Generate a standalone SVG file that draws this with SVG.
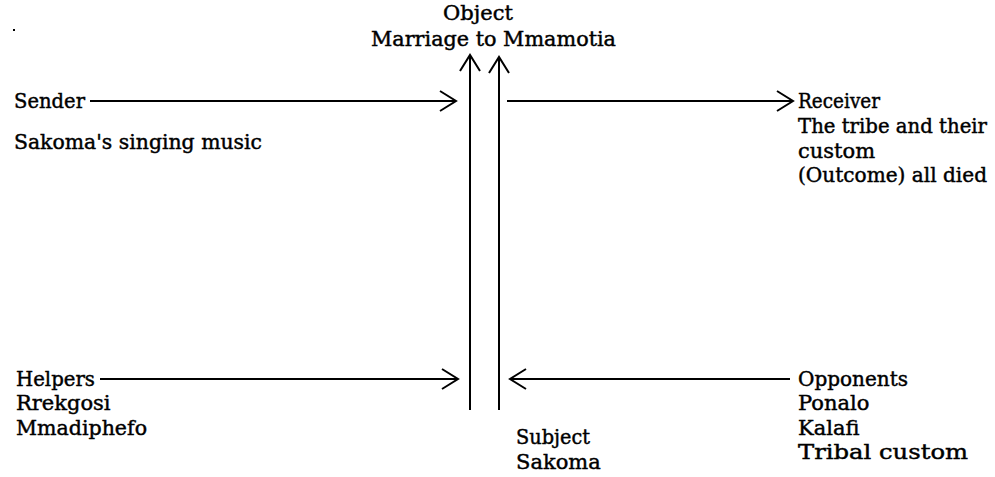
<svg xmlns="http://www.w3.org/2000/svg" width="995" height="477" viewBox="0 0 995 477">
<defs>
<style>
.t{font-family:"DejaVu Serif","Liberation Serif",serif;font-size:21px;fill:#000;stroke:#000;stroke-width:0.45}
.s{font-size:20px}
.c{stroke:#000;stroke-width:2;fill:none}
</style>
<marker id="ah" viewBox="0 0 20 24" refX="18" refY="12" markerWidth="20" markerHeight="24" markerUnits="userSpaceOnUse" orient="auto">
<path d="M2,2 L18,12 L2,22" fill="none" stroke="#000" stroke-width="2"/>
</marker>
</defs>
<rect width="995" height="477" fill="#fff"/>
<rect x="13" y="29" width="2" height="2" fill="#000"/>
<g id="connectors">
<line class="c" x1="90" y1="101" x2="456" y2="101" marker-end="url(#ah)"/>
<line class="c" x1="507" y1="101" x2="793" y2="101" marker-end="url(#ah)"/>
<line class="c" x1="470" y1="410" x2="470" y2="55" marker-end="url(#ah)"/>
<line class="c" x1="499" y1="410" x2="499" y2="57" marker-end="url(#ah)"/>
<line class="c" x1="100" y1="379" x2="458" y2="379" marker-end="url(#ah)"/>
<line class="c" x1="790" y1="379" x2="510" y2="379" marker-end="url(#ah)"/>
</g>
<g id="object">
<text class="t" x="478" y="20" text-anchor="middle">Object</text>
<text class="t" x="371" y="46" textLength="245" lengthAdjust="spacingAndGlyphs">Marriage to Mmamotia</text>
</g>
<g id="sender">
<text class="t" x="14" y="108" textLength="71" lengthAdjust="spacingAndGlyphs">Sender</text>
<text class="t" x="14" y="149" textLength="248" lengthAdjust="spacingAndGlyphs">Sakoma's singing music</text>
</g>
<g id="receiver">
<text class="t" x="798" y="108" textLength="82" lengthAdjust="spacingAndGlyphs">Receiver</text>
<text class="t s" x="798" y="133" textLength="189" lengthAdjust="spacingAndGlyphs">The tribe and their</text>
<text class="t" x="798" y="158">custom</text>
<text class="t s" x="798" y="182" textLength="189" lengthAdjust="spacingAndGlyphs">(Outcome) all died</text>
</g>
<g id="helpers">
<text class="t" x="16" y="386" textLength="79" lengthAdjust="spacingAndGlyphs">Helpers</text>
<text class="t" x="16" y="410">Rrekgosi</text>
<text class="t" x="16" y="435" textLength="131" lengthAdjust="spacingAndGlyphs">Mmadiphefo</text>
</g>
<g id="subject">
<text class="t" x="516" y="444" textLength="74" lengthAdjust="spacingAndGlyphs">Subject</text>
<text class="t" x="516" y="469">Sakoma</text>
</g>
<g id="opponents">
<text class="t" x="798" y="386" textLength="110" lengthAdjust="spacingAndGlyphs">Opponents</text>
<text class="t" x="798" y="410">Ponalo</text>
<text class="t" x="798" y="435">Kalafi</text>
<text class="t" x="798" y="459" textLength="170" lengthAdjust="spacingAndGlyphs">Tribal custom</text>
</g>
</svg>
